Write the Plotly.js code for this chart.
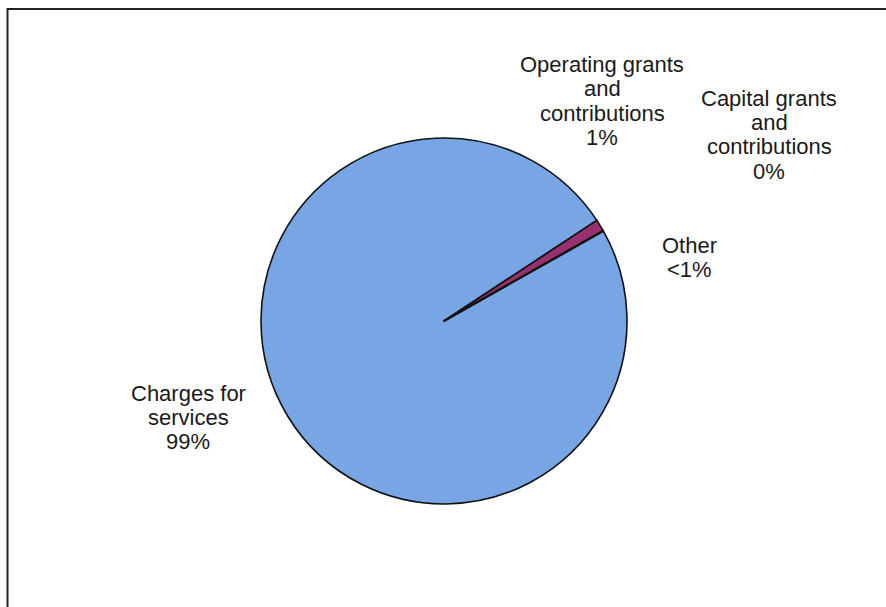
<!DOCTYPE html>
<html>
<head>
<meta charset="utf-8">
<script src="https://cdn.plot.ly/plotly-3.0.1.min.js"></script>
<style>html,body{margin:0;padding:0;background:#fff;}#chart{width:886px;height:607px;}</style>
</head>
<body>
<div id="chart"></div>
<script>
// Data
const categories = ['Charges for services', 'Operating grants and contributions', 'Capital grants and contributions', 'Other'];
const values = [98.9, 1.05, 0, 0.05];
const pctLabels = ['99%', '1%', '0%', '<1%'];
const labelLines = [['Charges for', 'services'], ['Operating grants', 'and', 'contributions'], ['Capital grants', 'and', 'contributions'], ['Other']];

// Layout (pixel positions of label centres: x, first-line y)
const W = 886, H = 607;
const labelPos = [[188, 393], [602, 65], [769, 99], [689, 245]];
const lineStep = 24;
const colors = ['#78A6E4', '#98306E', '#FFFFCC', '#CCFFFF'];

const cx = 444, cy = 321, r = 183;

const trace = {
  type: 'pie',
  labels: categories,
  values: values,
  sort: false,
  direction: 'clockwise',
  rotation: 60.6,
  textinfo: 'none',
  hoverinfo: 'label+percent',
  marker: {colors: colors, line: {color: '#111', width: 1.6}},
  domain: {x: [(cx - r) / W, (cx + r) / W], y: [(H - cy - r) / H, (H - cy + r) / H]},
  showlegend: false
};

const annotations = [];
labelLines.forEach((lines, i) => {
  const all = lines.concat([pctLabels[i]]);
  all.forEach((t, j) => {
    annotations.push({
      text: t, showarrow: false, xref: 'paper', yref: 'paper',
      x: labelPos[i][0] / W, y: 1 - (labelPos[i][1] + j * lineStep) / H,
      xanchor: 'center', yanchor: 'middle',
      font: {family: 'Liberation Sans, Arial, sans-serif', size: 22, color: '#1a1a1a'}
    });
  });
});

const layout = {
  width: W, height: H,
  margin: {l: 0, r: 0, t: 0, b: 0},
  paper_bgcolor: '#fff',
  showlegend: false,
  annotations: annotations,
  shapes: [{
    type: 'rect', xref: 'paper', yref: 'paper',
    x0: 7.5 / W, x1: 1.05, y0: -0.05, y1: 1 - 9 / H,
    line: {color: '#222', width: 2}, fillcolor: 'rgba(0,0,0,0)'
  }]
};

Plotly.newPlot('chart', [trace], layout, {displayModeBar: false, staticPlot: true});
</script>
</body>
</html>
